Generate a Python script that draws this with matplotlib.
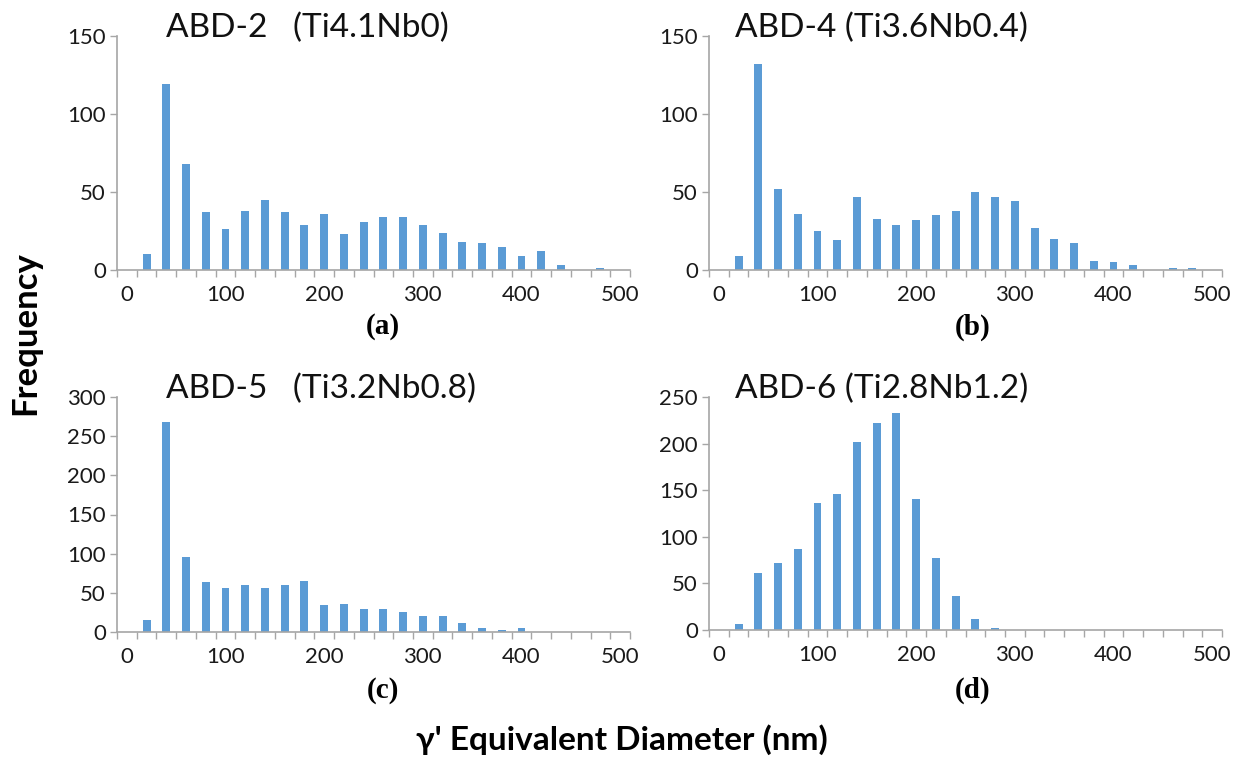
import matplotlib
matplotlib.use("Agg")
import matplotlib.pyplot as plt
import numpy as np

# Data
bin_labels = list(range(0, 501, 20))
freq_a = [0, 10, 119, 68, 37, 26, 38, 45, 37, 29, 36, 23, 31, 34, 34, 29, 24, 18, 17, 15, 9, 12, 3, 0, 1, 0]
freq_b = [0, 9, 132, 52, 36, 25, 19, 47, 33, 29, 32, 35, 38, 50, 47, 44, 27, 20, 17, 6, 5, 3, 0, 1, 1, 0]
freq_c = [0, 15, 268, 96, 64, 56, 60, 56, 60, 65, 34, 36, 30, 30, 25, 21, 21, 12, 5, 3, 5, 0, 0, 0, 0, 0]
freq_d = [0, 6, 61, 72, 87, 136, 146, 202, 222, 233, 141, 77, 36, 12, 2, 0, 0, 0, 0, 0, 0, 0, 0, 0, 0, 0]
titles = ["ABD-2   (Ti4.1Nb0)", "ABD-4 (Ti3.6Nb0.4)", "ABD-5   (Ti3.2Nb0.8)", "ABD-6 (Ti2.8Nb1.2)"]
panel_tags = ["(a)", "(b)", "(c)", "(d)"]
y_max = [150, 150, 300, 250]
y_step = [50, 50, 50, 50]
x_label_values = [0, 100, 200, 300, 400, 500]

W, H = 1247, 758
fig = plt.figure(figsize=(W / 100, H / 100), dpi=100)

FONT = ["Lato", "DejaVu Sans"]
BAR = "#5B9BD5"
AXC = "#A6A6A6"

# axes rectangles in pixel coords: left, top, right, bottom
rects = [(117, 36, 630, 270), (709, 36, 1222, 270), (117, 397, 630, 632), (709, 397, 1222, 630)]
title_x = [166, 735, 166, 735]
title_y = [37, 37, 398, 398]
tag_pos = [(383, 327), (973, 327), (383, 690), (973, 690)]

for i, (freq, (l, t, r, b)) in enumerate(zip([freq_a, freq_b, freq_c, freq_d], rects)):
    ax = fig.add_axes([l / W, 1 - b / H, (r - l) / W, (b - t) / H])
    x = np.arange(len(bin_labels))
    ax.bar(x, freq, width=0.4, color=BAR, edgecolor="none")
    ax.set_xlim(-0.5, len(bin_labels) - 0.5)
    ax.set_ylim(0, y_max[i])
    ax.set_yticks(np.arange(0, y_max[i] + 1, y_step[i]))
    # category boundary ticks (major, no labels), labels at minor positions
    ax.set_xticks(np.arange(-0.5, len(bin_labels), 1.0))
    ax.set_xticklabels([])
    lab_pos = [bin_labels.index(v) for v in x_label_values]
    ax.set_xticks(lab_pos, minor=True)
    ax.set_xticklabels([str(v) for v in x_label_values], minor=True)
    ax.tick_params(axis="x", which="major", length=5, width=1, color=AXC, direction="out")
    ax.tick_params(axis="x", which="minor", length=0, pad=11, labelsize=16, labelcolor="#1a1a1a")
    ax.tick_params(axis="y", which="major", length=5, width=1, color=AXC, direction="out",
                   labelsize=16, labelcolor="#1a1a1a", pad=3)
    for lab in ax.get_xticklabels(minor=True) + ax.get_yticklabels():
        lab.set_fontfamily(FONT)
    for s in ["top", "right"]:
        ax.spines[s].set_visible(False)
    for s in ["left", "bottom"]:
        ax.spines[s].set_color(AXC)
        ax.spines[s].set_linewidth(1.2)
    ax.set_facecolor("none")

    fig.text(title_x[i] / W, 1 - title_y[i] / H, titles[i], ha="left", va="baseline",
             fontsize=24, family=FONT, color="#111111")
    fig.text(tag_pos[i][0] / W, 1 - tag_pos[i][1] / H, panel_tags[i], ha="center", va="center",
             fontsize=21, family=["Liberation Serif", "DejaVu Serif"], fontweight="bold")

fig.text(25 / W, 1 - 333 / H, "Frequency", rotation=90, ha="center", va="center",
         fontsize=25, fontweight="bold", family=FONT)
fig.text(622 / W, 1 - 740 / H, "γ' Equivalent Diameter (nm)", ha="center", va="center",
         fontsize=24, fontweight="bold", family=FONT)

fig.savefig("out.png", dpi=100)
